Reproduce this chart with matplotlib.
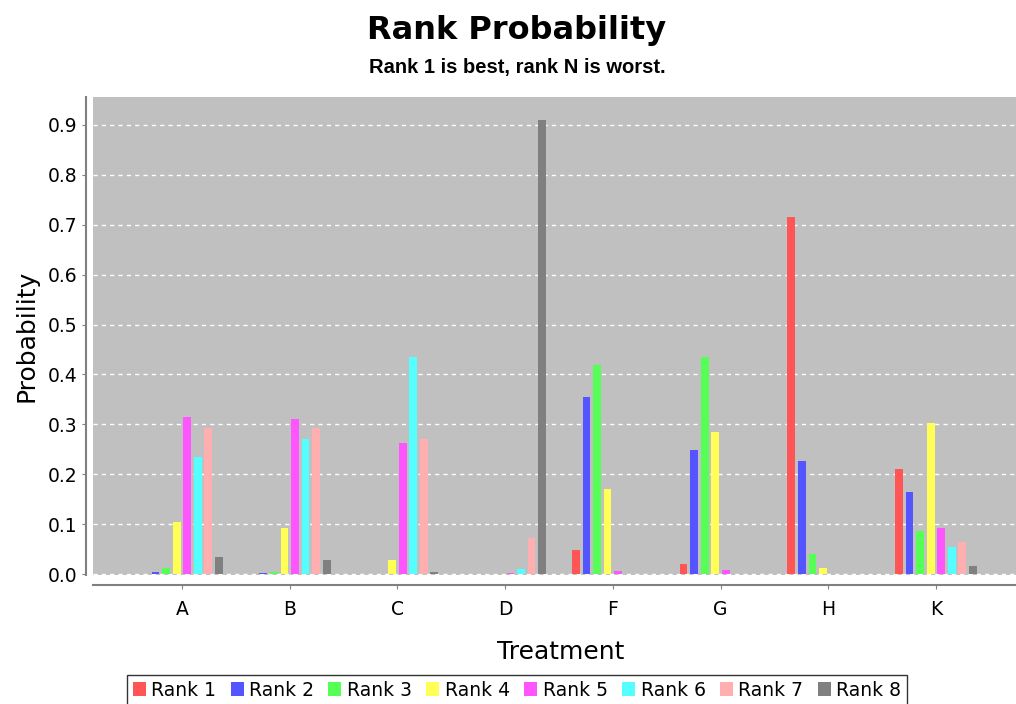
import numpy as np
import matplotlib
matplotlib.use('Agg')
import matplotlib.pyplot as plt

# treatments and rank probabilities
treatments = ['A', 'B', 'C', 'D', 'F', 'G', 'H', 'K']
rank_labels = ['Rank 1', 'Rank 2', 'Rank 3', 'Rank 4',
               'Rank 5', 'Rank 6', 'Rank 7', 'Rank 8']

rank1 = [0.001, 0.000, 0.000, 0.000, 0.048, 0.021, 0.716, 0.211]
rank2 = [0.004, 0.002, 0.000, 0.000, 0.354, 0.249, 0.227, 0.165]
rank3 = [0.012, 0.005, 0.000, 0.000, 0.419, 0.434, 0.041, 0.087]
rank4 = [0.105, 0.093, 0.028, 0.000, 0.171, 0.284, 0.013, 0.303]
rank5 = [0.315, 0.310, 0.263, 0.003, 0.007, 0.008, 0.000, 0.092]
rank6 = [0.235, 0.270, 0.434, 0.011, 0.000, 0.000, 0.000, 0.055]
rank7 = [0.293, 0.293, 0.270, 0.072, 0.000, 0.000, 0.000, 0.064]
rank8 = [0.034, 0.028, 0.004, 0.910, 0.000, 0.000, 0.000, 0.017]
series = [rank1, rank2, rank3, rank4, rank5, rank6, rank7, rank8]

colors = ['#ff5555', '#5555ff', '#55ff55', '#ffff55',
          '#ff55ff', '#55ffff', '#ffafaf', '#808080']

fig = plt.figure(figsize=(10.16, 7.04), dpi=100)
W, H = 1016, 704
ax = fig.add_axes([93 / W, 1 - 575 / H, (1016 - 93) / W, (575 - 97) / H])
ax.set_facecolor('#c0c0c0')

x = np.arange(len(treatments))
slot = 0.098
for i, vals in enumerate(series):
    ax.bar(x + (i - 3.5) * slot, vals, width=0.072, color=colors[i],
           label=rank_labels[i], zorder=3)

ax.set_xlim(-0.826, 7.743)
ax.set_ylim(-0.002, 0.956)
ax.set_yticks(np.arange(0, 0.95, 0.1))
ax.set_yticklabels(['%.1f' % v for v in np.arange(0, 0.95, 0.1)])
ax.set_xticks(x)
ax.set_xticklabels(treatments)
ax.yaxis.grid(True, color='white', linestyle=(0, (3, 3)), linewidth=1, zorder=1)

for s in ['top', 'right']:
    ax.spines[s].set_visible(False)
ax.spines['left'].set_position(('outward', 5))
ax.spines['bottom'].set_position(('outward', 7))
ax.spines['left'].set_color('#808080')
ax.spines['bottom'].set_color('#808080')
ax.spines['left'].set_linewidth(1.5)
ax.spines['bottom'].set_linewidth(1.5)
ax.tick_params(axis='both', colors='#808080', labelcolor='black', labelsize=13.5,
               length=3)
ax.tick_params(axis='x', pad=8)

ax.set_ylabel('Probability', fontsize=18, labelpad=6)
ax.set_xlabel('Treatment', fontsize=18, labelpad=10)
ax.xaxis.set_label_coords((561 - 93) / (1016 - 93), -0.135)

fig.text(517 / W, 1 - 31 / H, 'Rank Probability', ha='center', va='center',
         fontsize=23, fontweight='heavy')
fig.text(517 / W, 1 - 68 / H, 'Rank 1 is best, rank N is worst.', ha='center',
         va='center', fontsize=14.5, fontweight='bold',
         family=['Liberation Sans', 'DejaVu Sans'])

leg = fig.legend(loc='lower center', bbox_to_anchor=(517 / W, -0.015), ncol=8,
                 fontsize=13.5, frameon=True, fancybox=False, handlelength=0.7,
                 handleheight=0.8, handletextpad=0.3, columnspacing=0.75,
                 borderpad=0.3)
leg.get_frame().set_edgecolor('black')
leg.get_frame().set_linewidth(1)

fig.savefig('out.png', dpi=100)
